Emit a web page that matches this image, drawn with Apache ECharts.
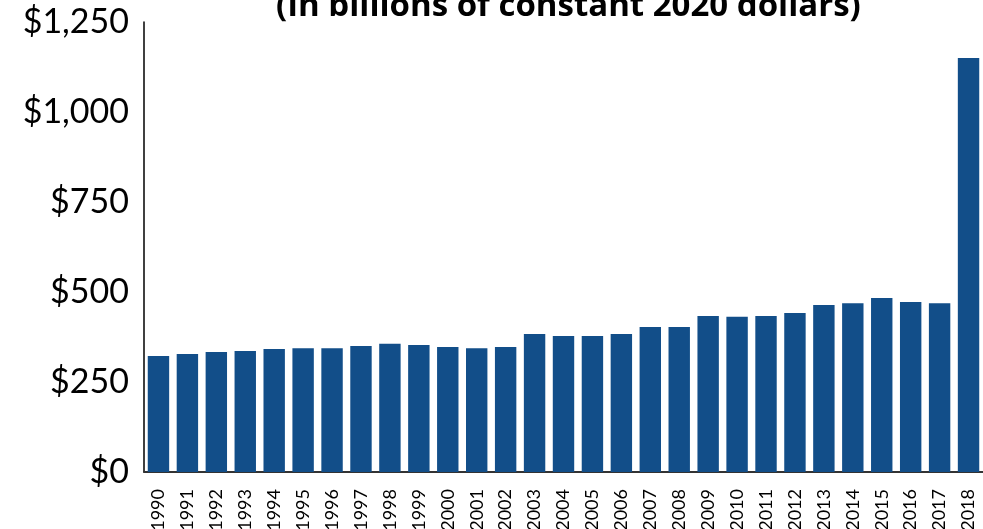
<!DOCTYPE html>
<html>
<head>
<meta charset="utf-8">
<script src="https://cdn.jsdelivr.net/npm/echarts@6/dist/echarts.min.js"></script>
<style>
  html, body { margin: 0; padding: 0; background: #fff; }
  #chart { width: 983px; height: 529px; }
</style>
</head>
<body>
<div id="chart"></div>
<script>
// values, billions of constant 2020 dollars
const years = ['1990', '1991', '1992', '1993', '1994', '1995', '1996', '1997', '1998', '1999',
  '2000', '2001', '2002', '2003', '2004', '2005', '2006', '2007', '2008', '2009',
  '2010', '2011', '2012', '2013', '2014', '2015', '2016', '2017', '2018']
const spending = [322, 328, 333, 336, 342, 344, 344, 350, 356, 353,
  347, 344, 347, 383, 378, 378, 383, 403, 403, 433,
  431, 433, 442, 464, 469, 483, 472, 469, 1150]
const yTicks = [0, 250, 500, 750, 1000, 1250]
const titleText = '(In billions of constant 2020 dollars)'

const chart = echarts.init(document.getElementById('chart'))

const option = {
  animation: false,
  title: {
    text: titleText,
    left: 271,
    top: -15,
    textStyle: {
      fontFamily: 'Open Sans',
      fontWeight: 'bold',
      fontSize: 33,
      color: '#000'
    }
  },
  grid: {
    left: 144,
    right: 0,
    top: 22,
    bottom: 57,
    outerBoundsMode: 'none'
  },
  xAxis: {
    type: 'category',
    data: years,
    axisTick: { show: false },
    axisLine: {
      lineStyle: { color: '#333', width: 2 }
    },
    axisLabel: {
      rotate: 90,
      interval: 0,
      margin: 17,
      fontFamily: 'Lato',
      fontSize: 18,
      color: '#000'
    }
  },
  yAxis: {
    type: 'value',
    min: yTicks[0],
    max: yTicks[yTicks.length - 1],
    interval: 250,
    splitLine: { show: false },
    axisTick: { show: false },
    axisLine: {
      show: true,
      lineStyle: { color: '#000', width: 1.5 }
    },
    axisLabel: {
      margin: 15,
      fontFamily: 'Lato',
      fontSize: 34,
      color: '#000',
      formatter: v => '$' + v.toLocaleString('en-US')
    }
  },
  series: [
    {
      type: 'bar',
      data: spending,
      barCategoryGap: '26%',
      itemStyle: { color: '#124e89' }
    }
  ]
}

chart.setOption(option)
</script>
</body>
</html>
